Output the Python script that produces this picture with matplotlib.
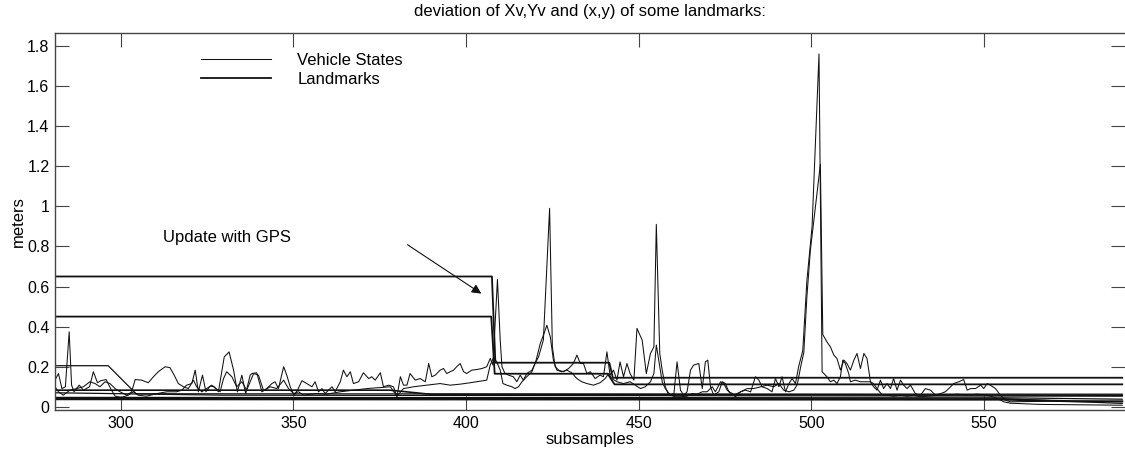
import numpy as np
import matplotlib
matplotlib.use("Agg")
import matplotlib.pyplot as plt
from matplotlib.ticker import FormatStrFormatter

plt.rcParams['font.family'] = ['Liberation Sans', 'DejaVu Sans']

# vehicle state deviations (two traces)
veh_a_x = [281, 282, 283, 284, 285.1, 285.8, 286.5, 288, 289.2, 291, 292.1, 293.3, 294.2, 295.8,
           297.1, 298.4, 300.3, 302.2, 303.7, 305.1, 307.5, 310.5, 313.4, 316.2, 317.7, 319.1,
           320.6, 321.6, 322.5, 323.7, 324.7, 325.9, 327.1, 328.3, 330, 331.4, 332.7, 333.8,
           335.1, 336.2, 337.5,
           338, 339.4, 340.9, 342.3, 343.8, 344.7, 345.7, 347.2, 348.1, 349.1, 350.2, 351.2,
           352.5, 353.9, 355.4, 356.3, 357.3, 358.3, 359.2, 360.2, 361.2, 362.1, 363.6, 364.5,
           365.5, 366.5, 367.4, 368.9, 370.3, 371.8, 372.7, 373.7, 375.2, 376.1, 377.6, 379,
           380, 381, 381.9, 382.9, 383.8, 385.3, 386.7, 388.2, 389.2, 390.1, 391.1, 392.5,
           393.5, 394.4, 395.4, 396.4, 397.3, 398.3, 399.3, 400.2, 401.7, 403.1, 404.6, 406,
           407, 407.8, 409.1, 409.9, 410.4, 411.3, 412.3, 413.7, 414.7, 415.7, 416.6, 417.6,
           419.1, 420, 421, 422.4, 424.2, 425, 425.8, 426.8, 428.2, 429.7, 431.1, 432.1, 433.1,
           434, 435, 436, 437.4, 438.8, 439.8, 440.8, 441.7, 442.7, 443.7, 444.6, 445.6, 446.6,
           447.5,
           448.6, 449.5, 451, 452.2, 453.4, 454.4, 455.1, 456.1, 456.8, 457.7, 458.7, 460.2,
           461.1, 462.1, 463, 464, 465, 465.9, 467.4, 468.4, 469.3, 470, 470.8, 471.7, 473.2,
           474.2, 475.1, 476.1, 477.1, 478, 479.5, 480.9, 482.4, 483.8, 484.8, 485.7, 487.2,
           488.6, 489.6, 490.6, 491.5, 492.5, 493.5, 494.4, 495.4, 496.3, 497.5, 498.7, 500.2,
           502.2, 503.1,
           504.5, 505.5, 506.5, 507.4, 508.4, 509.1, 509.8, 510.8, 511.3, 512.7, 514.2, 515.6,
           517.1, 518, 519, 520, 520.9, 521.9, 522.9, 523.8, 524.8, 525.8, 526.7, 527.7, 528.7,
           530.1, 531.6, 533, 534.5, 535.9, 537.4, 538.8, 540.3, 541.2, 542.7, 544.1, 545.1,
           546.1, 547.5, 549, 549.9, 550.9, 551.8, 553.3, 554.7, 556.2, 557.6, 570, 590]
veh_a_y = [0.133, 0.166, 0.091, 0.1, 0.374, 0.108, 0.075, 0.108, 0.083, 0.1, 0.175, 0.12, 0.13,
           0.136, 0.091, 0.053, 0.047, 0.058, 0.075, 0.058, 0.053, 0.066, 0.075, 0.075, 0.083,
           0.108, 0.116, 0.183, 0.075, 0.158, 0.075, 0.103, 0.1, 0.075, 0.249, 0.274, 0.183,
           0.075, 0.158, 0.066, 0.158,
           0.166, 0.17, 0.075, 0.091, 0.116, 0.125, 0.091, 0.2, 0.158, 0.1, 0.058, 0.083, 0.13,
           0.116, 0.1, 0.125, 0.075, 0.091, 0.066, 0.083, 0.1, 0.075, 0.125, 0.183, 0.15, 0.175,
           0.116, 0.125, 0.17, 0.141, 0.15, 0.133, 0.17, 0.1, 0.108, 0.1, 0.05, 0.15, 0.108,
           0.108, 0.166, 0.133, 0.141, 0.125, 0.216, 0.15, 0.158, 0.183,
           0.191, 0.166, 0.175, 0.183, 0.2, 0.216, 0.175, 0.166, 0.183, 0.186, 0.191, 0.2,
           0.241, 0.208, 0.635, 0.333, 0.2, 0.166, 0.158, 0.15, 0.125, 0.158, 0.133, 0.166,
           0.183, 0.216, 0.249, 0.333, 0.99, 0.3, 0.2, 0.183, 0.175, 0.191, 0.216, 0.258, 0.216,
           0.216, 0.166, 0.175, 0.141, 0.158, 0.15, 0.274, 0.158, 0.183, 0.133, 0.224, 0.15,
           0.216, 0.166,
           0.133, 0.391, 0.333, 0.166, 0.266, 0.299, 0.91, 0.266, 0.183, 0.1, 0.058, 0.066,
           0.224, 0.083, 0.058, 0.075, 0.183, 0.208, 0.216, 0.091, 0.224, 0.233, 0.1, 0.058,
           0.075, 0.125, 0.116, 0.075, 0.066, 0.05, 0.075, 0.083, 0.075, 0.15, 0.133, 0.1,
           0.091, 0.075, 0.141, 0.1, 0.15, 0.075, 0.116, 0.141, 0.116, 0.2, 0.28, 0.63, 0.9,
           1.76, 0.175,
           0.15, 0.125, 0.133, 0.116, 0.15, 0.233, 0.216, 0.166, 0.125, 0.133, 0.125, 0.125,
           0.125, 0.1, 0.083, 0.133, 0.091, 0.116, 0.091, 0.141, 0.083, 0.133, 0.108, 0.091,
           0.108, 0.066, 0.058, 0.091, 0.083, 0.058, 0.066, 0.075, 0.1, 0.116, 0.125, 0.136,
           0.083, 0.091, 0.091, 0.108, 0.091, 0.116, 0.108, 0.091, 0.058, 0.033, 0.025, 0.028,
           0.027]

veh_b_x = [281, 282, 283.4, 285.3, 287.3, 289.2, 291.1, 292.6, 294, 295.5, 296.9, 298.4, 299.8,
           301.8, 303.2, 304.2, 306.1, 308, 309.5, 310.9, 312.9, 314.3, 315.5, 316.7, 318.2,
           319.6, 321.1, 322, 323.5, 324.9, 326.4, 327.6, 328.8, 329.8, 330.7, 332.2, 333.6,
           335.1, 336.5,
           338.5, 339.9, 341.4, 343.3, 345.2, 347.2, 348.6, 350.1, 351.5, 353, 354.9, 356.8,
           359.7, 363.6, 367.4, 371.3, 375.2, 378.1, 380, 381.9, 384.8, 388.7, 392.5,
           395.4, 398.3, 401.2, 404.1, 406, 407, 408, 408.9, 409.9, 410.7, 411.8, 413.3, 414.2,
           415.2, 416.2, 417.6, 419.1, 420.3, 421.5, 422.6, 423.4, 424.4, 425.3, 426.3, 427.7,
           429.2, 430.6, 432.1, 433.5, 435, 436.9, 438.8, 440.3, 441.3, 442.2, 443.7, 445.6,
           447.5,
           449, 450.5, 451.9, 453.4, 454.4, 455.1, 455.8, 456.8, 457.7, 459.2, 460.6, 462.1,
           464, 465.5, 466.9, 468.4, 469.8, 471.3, 472.2, 473.7, 474.6, 475.6, 477.5, 479.5,
           481.4, 483.3, 485.3, 487.2, 489.1, 490.6, 492, 493.5, 494.9, 495.9, 496.9, 497.8,
           498.7, 499.7, 502.6, 503.3,
           504.5, 505.5, 506.5, 507.4, 508.4, 509.4, 510.3, 511.3, 512.3, 513.2, 514.2, 515.2,
           516.1, 517.1, 518, 519, 520.5, 521.9, 523.8, 525.8, 527.7, 529.6, 531.6, 533.5,
           536.4, 539.3, 542.2, 545.1, 548, 550.9, 553.8, 555.7, 557.6, 566, 590]
veh_b_y = [0.1, 0.075, 0.058, 0.083, 0.091, 0.1, 0.125, 0.116, 0.1, 0.125, 0.116, 0.091, 0.075,
           0.058, 0.075, 0.136, 0.133, 0.12, 0.15, 0.175, 0.2, 0.195, 0.158, 0.116, 0.1, 0.091,
           0.133, 0.1, 0.075, 0.091, 0.108, 0.091, 0.075, 0.141, 0.175, 0.15, 0.1, 0.125, 0.083,
           0.166, 0.158, 0.08, 0.1, 0.091, 0.133, 0.091, 0.066, 0.075, 0.058, 0.063, 0.066,
           0.063, 0.075, 0.083, 0.091, 0.096, 0.1, 0.053, 0.091, 0.1, 0.108, 0.116,
           0.108, 0.113, 0.12, 0.128, 0.133, 0.208, 0.246, 0.224, 0.183, 0.116, 0.108, 0.1,
           0.091, 0.1, 0.125, 0.15, 0.175, 0.233, 0.316, 0.366, 0.407, 0.349, 0.233, 0.183,
           0.175, 0.183, 0.17, 0.141, 0.125, 0.116, 0.108, 0.12, 0.141, 0.166, 0.141, 0.125,
           0.116, 0.125,
           0.108, 0.091, 0.1, 0.125, 0.166, 0.308, 0.233, 0.125, 0.091, 0.058, 0.05, 0.05,
           0.053, 0.066, 0.063, 0.075, 0.075, 0.1, 0.075, 0.125, 0.116, 0.083, 0.058, 0.075,
           0.091, 0.091, 0.1, 0.108, 0.1, 0.116, 0.083, 0.075, 0.083, 0.11, 0.2, 0.27, 0.55,
           0.78, 1.21, 0.36,
           0.324, 0.299, 0.258, 0.241, 0.183, 0.233, 0.216, 0.183, 0.233, 0.266, 0.191, 0.266,
           0.241, 0.125, 0.116, 0.091, 0.058, 0.058, 0.053, 0.058, 0.053, 0.057, 0.05, 0.053,
           0.057, 0.058, 0.063, 0.058, 0.063, 0.058, 0.042, 0.025, 0.018, 0.012, 0.008]

# landmark deviations (piecewise, mostly flat)
lm1_x = [281, 407.5, 408.5, 441.5, 442.5, 590]
lm1_y = [0.65, 0.65, 0.22, 0.22, 0.145, 0.145]
lm2_x = [281, 407.3, 408.3, 441, 443, 590]
lm2_y = [0.45, 0.45, 0.165, 0.165, 0.112, 0.112]
lm3_x = [281, 296.4, 304.5, 590]
lm3_y = [0.205, 0.205, 0.065, 0.063]
lm4_x = [281, 378, 390, 590]
lm4_y = [0.083, 0.083, 0.062, 0.058]
lm5_x = [281, 330, 590]
lm5_y = [0.07, 0.058, 0.053]
lm6_x = [281, 556, 590]
lm6_y = [0.047, 0.045, 0.038]
lm7_x = [281, 556, 575, 590]
lm7_y = [0.038, 0.036, 0.028, 0.027]
lm8_x = [281, 556, 590]
lm8_y = [0.042, 0.04, 0.017]

fig = plt.figure(figsize=(11.25, 4.57), dpi=100)
ax = fig.add_axes([0.0489, 0.1028, 0.9511, 0.8252])

ink = '#111111'
lv_a, = ax.plot(veh_a_x, veh_a_y, color=ink, lw=0.75)
ax.plot(veh_b_x, veh_b_y, color=ink, lw=0.75)
lm_handle = None
for xs, ys, w in [(lm1_x, lm1_y, 1.3), (lm2_x, lm2_y, 1.3), (lm3_x, lm3_y, 0.9),
                  (lm4_x, lm4_y, 1.2), (lm5_x, lm5_y, 0.9), (lm6_x, lm6_y, 0.9),
                  (lm7_x, lm7_y, 1.5), (lm8_x, lm8_y, 0.9)]:
    h, = ax.plot(xs, ys, color=ink, lw=w)
    if lm_handle is None:
        lm_handle = h

ax.set_xlim(281, 590.8)
ax.set_ylim(-0.016, 1.865)
ax.set_xticks([300, 350, 400, 450, 500, 550])
ax.set_yticks([0, 0.2, 0.4, 0.6, 0.8, 1, 1.2, 1.4, 1.6, 1.8])
ax.yaxis.set_major_formatter(FormatStrFormatter('%g'))
ax.tick_params(direction='in', length=10, width=0.8, color='#444444',
               top=True, right=True, labelsize=11.5, pad=4)
for s in ['left', 'top', 'bottom']:
    ax.spines[s].set_color('#444444')
    ax.spines[s].set_linewidth(1.0)
ax.spines['right'].set_visible(False)

ax.set_title('deviation of Xv,Yv and (x,y) of some landmarks:', fontsize=12, pad=12)
ax.set_xlabel('subsamples', fontsize=12, labelpad=1)
ax.set_ylabel('meters', fontsize=12, labelpad=1)

ax.legend([lv_a, lm_handle], ['Vehicle States', 'Landmarks'], loc='upper left',
          bbox_to_anchor=(0.136, 0.947), frameon=False, fontsize=12, handlelength=4.2,
          handletextpad=1.6, labelspacing=0.25, borderpad=0, borderaxespad=0)

ax.annotate('', xy=(405.1, 0.557), xytext=(382.4, 0.816),
            arrowprops=dict(arrowstyle='-|>', color=ink, lw=0.8, mutation_scale=14))
ax.text(330.7, 0.846, 'Update with GPS', ha='center', va='center', fontsize=12)

fig.savefig('out.png', dpi=100)
